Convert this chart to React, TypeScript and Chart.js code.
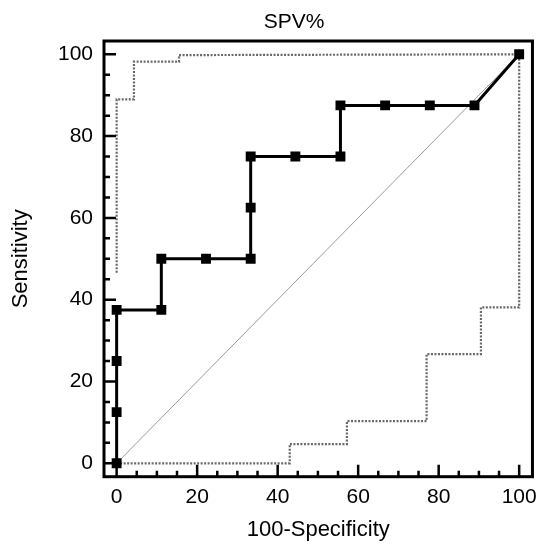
import React, { useEffect, useRef } from "react";
import { Chart, registerables } from "chart.js";

Chart.register(...registerables);

const titleText = "SPV%";
const xTitle = "100-Specificity";
const yTitle = "Sensitivity";
const majorTicks = [0, 20, 40, 60, 80, 100];
const minorTicks = [5, 10, 15, 25, 30, 35, 45, 50, 55, 65, 70, 75, 85, 90, 95];

const rocX = [0, 0, 0, 0, 11.1, 11.1, 22.2, 33.3, 33.3, 33.3, 44.4, 55.6, 55.6, 66.7, 77.8, 88.9, 100];
const rocY = [0, 12.5, 25, 37.5, 37.5, 50, 50, 50, 62.5, 75, 75, 75, 87.5, 87.5, 87.5, 87.5, 100];

const upperX = [0, 0, 4.3, 4.3, 15.5, 15.5, 100];
const upperY = [46.6, 89, 89, 98.2, 98.2, 99.8, 100];

const lowerX = [0, 43, 43, 57.2, 57.2, 77, 77, 90.5, 90.5, 100, 100];
const lowerY = [0, 0, 4.7, 4.7, 10.3, 10.3, 26.7, 26.7, 38.1, 38.1, 100];

const diagX = [0, 100];
const diagY = [0, 100];

const FONT = "'Liberation Sans', Arial, sans-serif";

const zip = (xs: number[], ys: number[]) => xs.map((x, i) => ({ x, y: ys[i] }));

const framePlugin = {
  id: "framePlugin",
  afterDraw(chart: any) {
    const { ctx, chartArea, scales } = chart;
    const xs = scales.x;
    const ys = scales.y;
    ctx.save();
    ctx.strokeStyle = "#000";
    ctx.lineWidth = 3;
    ctx.strokeRect(chartArea.left, chartArea.top, chartArea.right - chartArea.left, chartArea.bottom - chartArea.top);
    ctx.lineWidth = 2.5;
    ctx.beginPath();
    const drawX = (v: number, len: number) => {
      const p = xs.getPixelForValue(v);
      ctx.moveTo(p, chartArea.bottom);
      ctx.lineTo(p, chartArea.bottom - len);
    };
    const drawY = (v: number, len: number) => {
      const p = ys.getPixelForValue(v);
      ctx.moveTo(chartArea.left, p);
      ctx.lineTo(chartArea.left + len, p);
    };
    majorTicks.forEach((v) => { drawX(v, 12); drawY(v, 12); });
    minorTicks.forEach((v) => { drawX(v, 6); drawY(v, 6); });
    ctx.stroke();
    ctx.fillStyle = "#000";
    ctx.font = `21px ${FONT}`;
    ctx.textAlign = "center";
    ctx.textBaseline = "alphabetic";
    ctx.fillText(titleText, 294, 28);
    ctx.restore();
  },
};

export default function App() {
  const ref = useRef<HTMLCanvasElement>(null);
  useEffect(() => {
    document.body.style.margin = "0";
    const canvas = ref.current!;
    const chart = new Chart(canvas, {
      type: "scatter",
      data: {
        datasets: [
          {
            data: zip(rocX, rocY),
            showLine: true,
            borderColor: "#000",
            borderWidth: 3,
            backgroundColor: "#000",
            pointStyle: "rect",
            pointRadius: 7,
            pointBorderWidth: 0,
            pointBackgroundColor: "#000",
          },
          {
            data: zip(upperX, upperY),
            showLine: true,
            borderColor: "#686868",
            borderWidth: 2.2,
            borderDash: [2, 1.5],
            pointRadius: 0,
          },
          {
            data: zip(lowerX, lowerY),
            showLine: true,
            borderColor: "#686868",
            borderWidth: 2.2,
            borderDash: [2, 1.5],
            pointRadius: 0,
          },
          {
            data: zip(diagX, diagY),
            showLine: true,
            borderColor: "#9a9a9a",
            borderWidth: 1,
            pointRadius: 0,
          },
        ],
      },
      options: {
        animation: false,
        responsive: false,
        devicePixelRatio: 1,
        layout: { padding: { top: 41, right: 10, left: 0, bottom: 0 } },
        plugins: { legend: { display: false }, tooltip: { enabled: false }, title: { display: false } },
        scales: {
          x: {
            type: "linear",
            min: -3.14,
            max: 103.3,
            grid: { display: false, drawTicks: false },
            border: { display: false },
            afterBuildTicks: (s: any) => { s.ticks = majorTicks.map((v) => ({ value: v })); },
            afterFit: (s: any) => { s.height = 70.3; },
            ticks: { color: "#000", font: { family: FONT, size: 21 }, padding: 8, maxRotation: 0, autoSkip: false },
            title: { display: true, text: xTitle, color: "#000", font: { family: FONT, size: 22 }, padding: { top: 0, bottom: 4 } },
          },
          y: {
            type: "linear",
            min: -3.28,
            max: 103.25,
            grid: { display: false, drawTicks: false },
            border: { display: false },
            afterBuildTicks: (s: any) => { s.ticks = majorTicks.map((v) => ({ value: v })); },
            afterFit: (s: any) => { s.width = 104; },
            ticks: { color: "#000", font: { family: FONT, size: 21 }, padding: 11, autoSkip: false },
            title: { display: true, text: yTitle, color: "#000", font: { family: FONT, size: 22 }, padding: { top: 8, bottom: 0 } },
          },
        },
      },
      plugins: [framePlugin],
    });
    return () => chart.destroy();
  }, []);
  return (
    <div style={{ width: 545, height: 547 }}>
      <canvas ref={ref} width={545} height={547} style={{ display: "block" }} />
    </div>
  );
}
